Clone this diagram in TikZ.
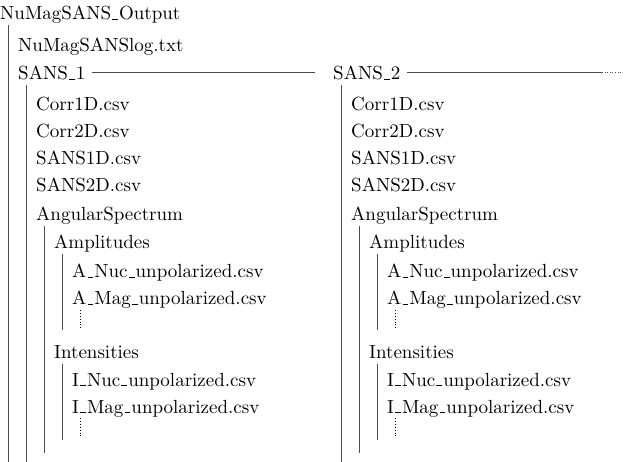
\documentclass[tikz,border=0pt]{standalone}
\newcommand\usc{\leavevmode\kern.06em\rule{.3em}{.04em}\kern.06em}
\newcommand\T[1]{\scalebox{1.9}{#1}}
\begin{document}
\begin{tikzpicture}[x=1pt,y=-1pt,
  lbl/.style={anchor=base west,inner sep=0pt,font=\fontsize{10}{12}\selectfont},
  tl/.style={draw=black!70,line width=0.6pt}]
\useasboundingbox (0,0) rectangle (640,462);
\node[lbl] (root) at (0,20) {\T{NuMagSANS\usc Output}};
\node[lbl] (log) at (18,52) {\T{NuMagSANSlog.txt}};
\node[lbl] (s1) at (18,80) {\T{SANS\usc 1}};
\node[lbl] (s2) at (333,80) {\T{SANS\usc 2}};
\coordinate (s2end) at (602,72);
\coordinate (dotend) at (622,72);
\draw[tl] ([xshift=6pt]s1.east|-0,72) -- ([xshift=-18pt]s2.west|-0,72);
\draw[tl] ([xshift=6pt]s2.east|-0,72) -- (s2end);
\draw[tl,dotted,line width=0.9pt] (s2end) -- (dotend);
\draw[tl] (8,25) -- (8,462);
\foreach \ox/\n in {0/a,315/b}{
  \node[lbl] (c1\n) at (36+\ox,111) {\T{Corr1D.csv}};
  \node[lbl] (c2\n) at (36+\ox,138) {\T{Corr2D.csv}};
  \node[lbl] (d1\n) at (36+\ox,165) {\T{SANS1D.csv}};
  \node[lbl] (d2\n) at (36+\ox,192) {\T{SANS2D.csv}};
  \node[lbl] (as\n) at (36+\ox,221) {\T{AngularSpectrum}};
  \node[lbl] (am\n) at (54+\ox,249) {\T{Amplitudes}};
  \node[lbl] (an\n) at (72+\ox,278) {\T{A\usc Nuc\usc unpolarized.csv}};
  \node[lbl] (ag\n) at (72+\ox,305) {\T{A\usc Mag\usc unpolarized.csv}};
  \node[lbl] (in\n) at (54+\ox,359) {\T{Intensities}};
  \node[lbl] (iu\n) at (72+\ox,386) {\T{I\usc Nuc\usc unpolarized.csv}};
  \node[lbl] (im\n) at (72+\ox,413) {\T{I\usc Mag\usc unpolarized.csv}};
  \draw[tl] (26+\ox,85) -- (26+\ox,462);
  \draw[tl] (44+\ox,226) -- (44+\ox,453);
  \draw[tl] (62+\ox,254) -- (62+\ox,330);
  \draw[tl] (62+\ox,364) -- (62+\ox,440);
  \draw[black,dotted,line width=0.9pt] (80+\ox,310) -- (80+\ox,328);
  \draw[black,dotted,line width=0.9pt] (80+\ox,418) -- (80+\ox,436);
}
\end{tikzpicture}
\end{document}
